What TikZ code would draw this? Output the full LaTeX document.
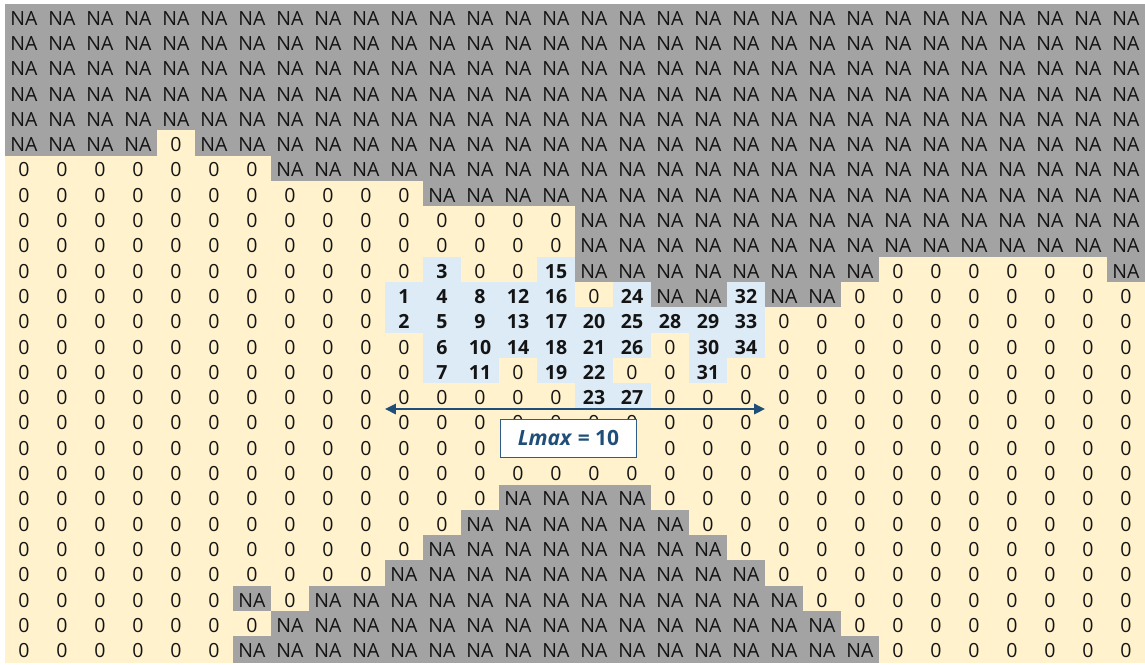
\documentclass[tikz,border=0pt]{standalone}
\usepackage{fontspec}
\setmainfont{Open Sans}
\usepackage{tikz}
\usetikzlibrary{arrows.meta}
\definecolor{nagrey}{HTML}{A3A3A3}
\definecolor{zerofill}{HTML}{FFF2CC}
\definecolor{hitfill}{HTML}{DDEBF7}
\definecolor{celltext}{HTML}{141414}
\definecolor{lmaxblue}{HTML}{1F4E79}
\definecolor{boxline}{HTML}{2E5C8A}
\def\naval{N}
\def\zeroval{0}
\def\hidval{E}

\begin{document}
\begin{tikzpicture}[x=1pt,y=-1pt,
    cell/.style={minimum width=\cw,minimum height=\rh,inner sep=0pt,line width=0.4pt,
      text height=17pt,text depth=0pt,font=\fontsize{19.5}{19.5}\selectfont,text=celltext},
    nacell/.style={cell,fill=nagrey,draw=nagrey},
    zerocell/.style={cell,fill=zerofill,draw=zerofill},
    hitcell/.style={cell,fill=hitfill,draw=hitfill,font=\fontsize{19.5}{19.5}\selectfont\bfseries},
    lmaxbox/.style={fill=white,draw=boxline,line width=0.9pt,minimum width=136,minimum height=38,
      inner sep=0pt,text=lmaxblue,font=\fontsize{21}{21}\selectfont\bfseries},
    lmaxarrow/.style={draw=lmaxblue,line width=2.6pt,{Triangle[length=11pt,width=10pt]}-{Triangle[length=11pt,width=10pt]}},
  ]
  \def\cw{38}
  \def\rh{25.3}
  \def\gx{5}
  \def\gy{4}
  \fill[white] (0,0) rectangle (1145,664);
  \useasboundingbox (0,0) rectangle (1145,664);
  % one list per grid row: N = NA, 0 = zero, E = zero under the box, other = cell number
  \foreach \rowv [count=\r from 0] in {
    {N,N,N,N,N,N,N,N,N,N, N,N,N,N,N,N,N,N,N,N, N,N,N,N,N,N,N,N,N,N},
    {N,N,N,N,N,N,N,N,N,N, N,N,N,N,N,N,N,N,N,N, N,N,N,N,N,N,N,N,N,N},
    {N,N,N,N,N,N,N,N,N,N, N,N,N,N,N,N,N,N,N,N, N,N,N,N,N,N,N,N,N,N},
    {N,N,N,N,N,N,N,N,N,N, N,N,N,N,N,N,N,N,N,N, N,N,N,N,N,N,N,N,N,N},
    {N,N,N,N,N,N,N,N,N,N, N,N,N,N,N,N,N,N,N,N, N,N,N,N,N,N,N,N,N,N},
    {N,N,N,N,0,N,N,N,N,N, N,N,N,N,N,N,N,N,N,N, N,N,N,N,N,N,N,N,N,N},
    {0,0,0,0,0,0,0,N,N,N, N,N,N,N,N,N,N,N,N,N, N,N,N,N,N,N,N,N,N,N},
    {0,0,0,0,0,0,0,0,0,0, 0,N,N,N,N,N,N,N,N,N, N,N,N,N,N,N,N,N,N,N},
    {0,0,0,0,0,0,0,0,0,0, 0,0,0,0,0,N,N,N,N,N, N,N,N,N,N,N,N,N,N,N},
    {0,0,0,0,0,0,0,0,0,0, 0,0,0,0,0,N,N,N,N,N, N,N,N,N,N,N,N,N,N,N},
    {0,0,0,0,0,0,0,0,0,0, 0,3,0,0,15,N,N,N,N,N, N,N,N,0,0,0,0,0,0,N},
    {0,0,0,0,0,0,0,0,0,0, 1,4,8,12,16,0,24,N,N,32, N,N,0,0,0,0,0,0,0,0},
    {0,0,0,0,0,0,0,0,0,0, 2,5,9,13,17,20,25,28,29,33, 0,0,0,0,0,0,0,0,0,0},
    {0,0,0,0,0,0,0,0,0,0, 0,6,10,14,18,21,26,0,30,34, 0,0,0,0,0,0,0,0,0,0},
    {0,0,0,0,0,0,0,0,0,0, 0,7,11,0,19,22,0,0,31,0, 0,0,0,0,0,0,0,0,0,0},
    {0,0,0,0,0,0,0,0,0,0, 0,0,0,0,0,23,27,0,0,0, 0,0,0,0,0,0,0,0,0,0},
    {0,0,0,0,0,0,0,0,0,0, 0,0,0,0,0,0,0,0,0,0, 0,0,0,0,0,0,0,0,0,0},
    {0,0,0,0,0,0,0,0,0,0, 0,0,0,E,E,E,0,0,0,0, 0,0,0,0,0,0,0,0,0,0},
    {0,0,0,0,0,0,0,0,0,0, 0,0,0,0,0,0,0,0,0,0, 0,0,0,0,0,0,0,0,0,0},
    {0,0,0,0,0,0,0,0,0,0, 0,0,0,N,N,N,N,0,0,0, 0,0,0,0,0,0,0,0,0,0},
    {0,0,0,0,0,0,0,0,0,0, 0,0,N,N,N,N,N,N,0,0, 0,0,0,0,0,0,0,0,0,0},
    {0,0,0,0,0,0,0,0,0,0, 0,N,N,N,N,N,N,N,N,0, 0,0,0,0,0,0,0,0,0,0},
    {0,0,0,0,0,0,0,0,0,0, N,N,N,N,N,N,N,N,N,N, 0,0,0,0,0,0,0,0,0,0},
    {0,0,0,0,0,0,N,0,N,N, N,N,N,N,N,N,N,N,N,N, N,0,0,0,0,0,0,0,0,0},
    {0,0,0,0,0,0,0,N,N,N, N,N,N,N,N,N,N,N,N,N, N,N,0,0,0,0,0,0,0,0},
    {0,0,0,0,0,0,N,N,N,N, N,N,N,N,N,N,N,N,N,N, N,N,N,0,0,0,0,0,0,0}}{
    \foreach \v [count=\c from 0] in \rowv {
      \edef\cellv{\v}
      \ifx\cellv\naval
        \node[nacell] (c-\r-\c) at (\gx+\c*\cw+\cw/2,\gy+\r*\rh+\rh/2) {NA};
      \else\ifx\cellv\zeroval
        \node[zerocell] (c-\r-\c) at (\gx+\c*\cw+\cw/2,\gy+\r*\rh+\rh/2) {0};
      \else\ifx\cellv\hidval
        \node[zerocell] (c-\r-\c) at (\gx+\c*\cw+\cw/2,\gy+\r*\rh+\rh/2) {};
      \else
        \node[hitcell] (c-\r-\c) at (\gx+\c*\cw+\cw/2,\gy+\r*\rh+\rh/2) {\cellv};
      \fi\fi\fi
    }
  }
  % span of the numbered cells
  \coordinate (lmaxL) at (c-15-10.south west);
  \coordinate (lmaxR) at (c-15-19.south east);
  \draw[lmaxarrow] (lmaxL) -- (lmaxR);
  \node[lmaxbox] (lmax) at (568.5,438) {\textit{Lmax} = 10};
\end{tikzpicture}
\end{document}
